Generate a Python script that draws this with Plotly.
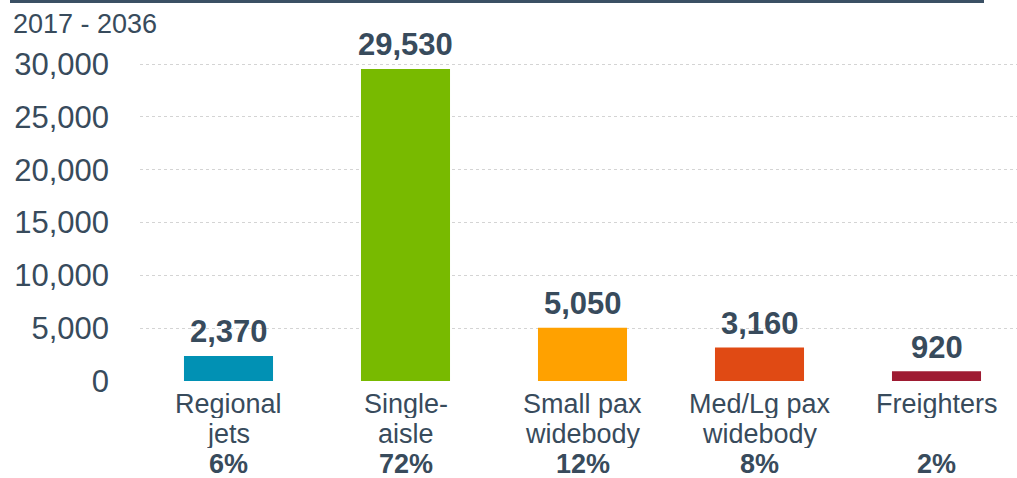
import plotly.graph_objects as go

# Deliveries 2017 - 2036 by aircraft category
categories = ["Regional jets", "Single-aisle", "Small pax widebody", "Med/Lg pax widebody", "Freighters"]
label_lines = [["Regional", "jets"], ["Single-", "aisle"], ["Small pax", "widebody"], ["Med/Lg pax", "widebody"], ["Freighters", ""]]
deliveries = [2370, 29530, 5050, 3160, 920]
shares = ["6%", "72%", "12%", "8%", "2%"]
bar_colors = ["#0191B4", "#78BA00", "#FFA100", "#E04A14", "#9E1B32"]
y_ticks = [0, 5000, 10000, 15000, 20000, 25000, 30000]
period = "2017 - 2036"

W, H = 1017, 478
ML, MR, MT, MB = 140, 0, 20, 97
TEXT = "#384B5C"
FONT = "Arial, Liberation Sans, sans-serif"
LINE_H = 29  # text box height of each category label row

pw = W - ML - MR
ph = H - MT - MB


def px_x(p):
    return (p - ML) / pw


def px_y(p):
    return 1 - (p - MT) / ph


x_idx = list(range(len(categories)))

fig = go.Figure(
    go.Bar(
        x=x_idx,
        y=deliveries,
        marker=dict(color=bar_colors, line=dict(width=0)),
        width=0.503,
        hoverinfo="skip",
    )
)

annotations = []
for i, v in enumerate(deliveries):
    annotations.append(dict(
        x=i, y=v, xref="x", yref="y", text=f"<b>{v:,}</b>", showarrow=False,
        yanchor="middle", yshift=24, font=dict(family=FONT, size=31, color=TEXT),
    ))
    lines = label_lines[i]
    for k, t in enumerate(lines):
        if t:
            annotations.append(dict(
                x=i, y=px_y(403 + 30 * k), xref="x", yref="paper", text=t, showarrow=False,
                yanchor="middle", height=LINE_H, font=dict(family=FONT, size=27, color=TEXT),
            ))
    annotations.append(dict(
        x=i, y=px_y(463), xref="x", yref="paper", text=f"<b>{shares[i]}</b>", showarrow=False,
        yanchor="middle", height=LINE_H, font=dict(family=FONT, size=27, color=TEXT),
    ))

annotations.append(dict(
    x=px_x(11), y=px_y(24), xref="paper", yref="paper", text=period, showarrow=False,
    xanchor="left", yanchor="middle", font=dict(family=FONT, size=27, color=TEXT),
))

fig.update_layout(
    width=W, height=H,
    margin=dict(l=ML, r=MR, t=MT, b=MB, pad=0),
    paper_bgcolor="white", plot_bgcolor="white",
    showlegend=False,
    annotations=annotations,
    shapes=[dict(
        type="rect", xref="paper", yref="paper",
        x0=px_x(10), x1=px_x(984), y0=px_y(3), y1=px_y(0),
        fillcolor="#3B5064", line=dict(width=0), layer="above",
    )],
    xaxis=dict(
        range=[-0.5, -0.5 + pw / 177.0], showticklabels=False, showgrid=False,
        zeroline=False, showline=False, fixedrange=True,
    ),
    yaxis=dict(
        range=[0, 30000 * ph / 317.0], tickvals=y_ticks, tickformat=",d",
        showgrid=True, gridcolor="#d4d4d4", griddash="dot", gridwidth=1,
        zeroline=False, showline=False, ticks="", ticklabelstandoff=30,
        tickfont=dict(family=FONT, size=31, color=TEXT), fixedrange=True,
    ),
)

fig.write_html("out.html")
